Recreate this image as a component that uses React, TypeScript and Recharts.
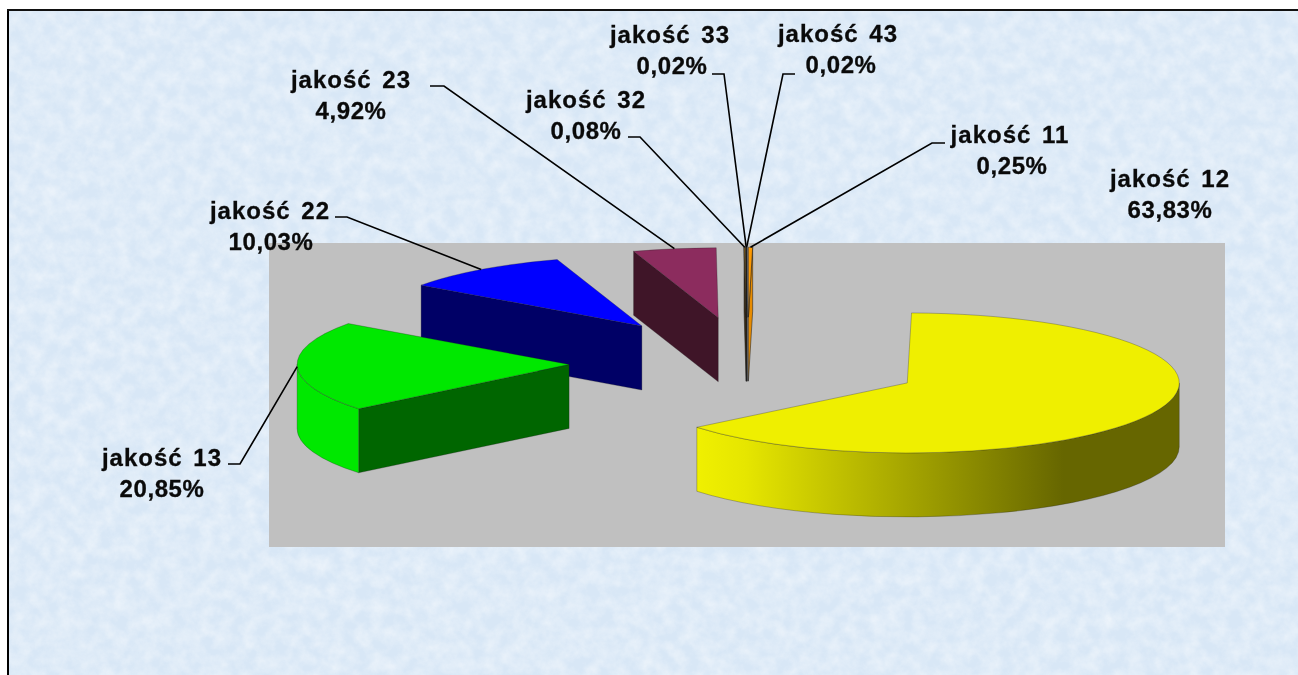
import React from "react";
import { PieChart, Pie } from "recharts";

// Data in the chart's own order (clockwise from 12 o'clock)
const categories = ["jakość 11", "jakość 12", "jakość 13", "jakość 22", "jakość 23", "jakość 32", "jakość 33", "jakość 43"];
const shares = [0.25, 63.83, 20.85, 10.03, 4.92, 0.08, 0.02, 0.02];

// Styles
const topColors = ["#FF9A00", "#EFEF00", "#00E800", "#0000FF", "#8C2C5E", "#9A6A10", "#3A3A3A", "#3A3A3A"];
const cutColors = ["#E88C00", "#666600", "#006600", "#000066", "#3F1528", "#3A2A10", "#2A2A2A", "#2A2A2A"];
const wallColors = ["#FF9A00", "url(#yellowWall)", "#00E800", "#0000FF", "#8C2C5E", "#9A6A10", "#3A3A3A", "#3A3A3A"];

// Label layout: centre x, first baseline, second-line centre x, leader [x start, x elbow, y]
const labelLayout: Record<string, { x: number; y: number; x2: number; leader?: [number, number, number] }> = {
  "jakość 11": { x: 1010, y: 143, x2: 1012, leader: [945, 932, 143] },
  "jakość 12": { x: 1170, y: 187, x2: 1170 },
  "jakość 13": { x: 162, y: 466, x2: 162, leader: [228, 240, 464] },
  "jakość 22": { x: 270, y: 219, x2: 271, leader: [335, 347, 217] },
  "jakość 23": { x: 351, y: 88, x2: 351, leader: [430, 444, 86] },
  "jakość 32": { x: 586, y: 108, x2: 586, leader: [628, 640, 137] },
  "jakość 33": { x: 670, y: 43, x2: 672, leader: [712, 724, 74] },
  "jakość 43": { x: 838, y: 42, x2: 841, leader: [795, 783, 74] },
};

const WIDTH = 1298;
const HEIGHT = 675;
const CX = 747;
const CY = 363;
const RX = 272;
const RY = 70;
const DEPTH = 64;
const EXPLODE = 178;
const RAD = Math.PI / 180;

// Reverse order + counter-clockwise sweep keeps the clockwise layout while painting back slices first.
const rows = categories.map((name, i) => ({ name, value: shares[i], index: i })).reverse();

const apex = (cx: number, cy: number, mid: number) => ({
  x: cx + EXPLODE * Math.cos(mid * RAD),
  y: cy - (EXPLODE * RY * Math.sin(mid * RAD)) / RX,
});
const rim = (o: { x: number; y: number }, a: number, rx: number, dz = 0) => ({
  x: o.x + rx * Math.cos(a * RAD),
  y: o.y - ((rx * RY) / RX) * Math.sin(a * RAD) + dz,
});
const pt = (p: { x: number; y: number }) => `${p.x.toFixed(2)} ${p.y.toFixed(2)}`;

function Slice3D(props: any) {
  const { cx, cy, startAngle, endAngle, midAngle, outerRadius, payload } = props;
  const i: number = payload?.index ?? props.index;
  const a0 = Math.min(startAngle, endAngle);
  const a1 = Math.max(startAngle, endAngle);
  const o = apex(cx, cy, midAngle);
  const rx = outerRadius;
  const ry = (rx * RY) / RX;
  const p0 = rim(o, a0, rx);
  const p1 = rim(o, a1, rx);
  const large = a1 - a0 > 180 ? 1 : 0;
  const top = `M${pt(o)} L${pt(p0)} A${rx} ${ry} 0 ${large} 0 ${pt(p1)} Z`;

  const cut = (a: number) => {
    const p = rim(o, a, rx);
    return `M${pt(o)} L${pt(p)} L${p.x.toFixed(2)} ${(p.y + DEPTH).toFixed(2)} L${o.x.toFixed(2)} ${(o.y + DEPTH).toFixed(2)} Z`;
  };
  const w0 = Math.max(a0, 180);
  const w1 = Math.min(a1, 360);
  let wall: string | null = null;
  if (w1 > w0) {
    const s = rim(o, w0, rx);
    const e = rim(o, w1, rx);
    const big = w1 - w0 > 180 ? 1 : 0;
    wall = `M${pt(s)} A${rx} ${ry} 0 ${big} 0 ${pt(e)} L${e.x.toFixed(2)} ${(e.y + DEPTH).toFixed(2)} A${rx} ${ry} 0 ${big} 1 ${s.x.toFixed(2)} ${(s.y + DEPTH).toFixed(2)} Z`;
  }
  const sliver = a1 - a0 < 1;
  const edge = sliver ? "rgba(30,30,30,0.6)" : "rgba(30,30,30,0.4)";
  const sw = sliver ? 0.9 : 0.7;
  return (
    <g>
      <defs>
        <linearGradient id="yellowWall" x1="0" y1="0" x2="1" y2="0">
          <stop offset="0" stopColor="#F0F000" />
          <stop offset="0.1" stopColor="#E6E600" />
          <stop offset="0.76" stopColor="#666600" />
          <stop offset="1" stopColor="#666600" />
        </linearGradient>
      </defs>
      {Math.cos(a1 * RAD) < 0 && <path d={cut(a1)} fill={cutColors[i]} stroke={edge} strokeWidth={sw} />}
      {Math.cos(a0 * RAD) > 0 && <path d={cut(a0)} fill={cutColors[i]} stroke={edge} strokeWidth={sw} />}
      {wall && <path d={wall} fill={wallColors[i]} stroke={edge} strokeWidth={sw} />}
      <path d={top} fill={topColors[i]} stroke={edge} strokeWidth={sw} />
    </g>
  );
}

function SliceLabel(props: any) {
  const { cx, cy, midAngle, outerRadius, index } = props;
  const row = rows[index];
  const l = labelLayout[row.name];
  const o = apex(cx, cy, midAngle);
  const end = rim(o, midAngle, outerRadius);
  const text = {
    fontFamily: "'Liberation Sans', Arial, sans-serif",
    fontWeight: 700,
    fontSize: 24,
    fill: "#0a0a0a",
    stroke: "#0a0a0a",
    strokeWidth: 0.3,
    textAnchor: "middle" as const,
  };
  return (
    <g>
      {l.leader && (
        <polyline
          points={`${l.leader[0]},${l.leader[2]} ${l.leader[1]},${l.leader[2]} ${end.x.toFixed(1)},${end.y.toFixed(1)}`}
          fill="none"
          stroke="#000"
          strokeWidth={1.6}
        />
      )}
      <text x={l.x} y={l.y} {...text} style={{ letterSpacing: "1px", wordSpacing: "3px" }}>
        {row.name}
      </text>
      <text x={l.x2} y={l.y + 31} {...text} style={{ letterSpacing: "0.6px" }}>
        {row.value.toFixed(2).replace(".", ",") + "%"}
      </text>
    </g>
  );
}

function Backdrop() {
  return (
    <svg width={WIDTH} height={HEIGHT} style={{ position: "absolute", left: 0, top: 0 }}>
      <defs>
        <filter id="paper" x="0" y="0" width="100%" height="100%">
          <feTurbulence type="fractalNoise" baseFrequency="0.07" numOctaves={4} seed={7} />
          <feColorMatrix
            type="matrix"
            values="0 0 0 0 1  0 0 0 0 1  0 0 0 0 1  1.4 0 0 0 -0.4"
          />
        </filter>
      </defs>
      <rect width={WIDTH} height={HEIGHT} fill="#ffffff" />
      <rect x={8} y={10} width={WIDTH} height={HEIGHT} fill="#D8E7F6" />
      <rect x={8} y={10} width={WIDTH} height={HEIGHT} filter="url(#paper)" opacity={0.55} />
      <rect x={269} y={243} width={956} height={304} fill="#C0C0C0" />
      <line x1={8} y1={9} x2={8} y2={HEIGHT} stroke="#000" strokeWidth={2} />
      <line x1={7} y1={10} x2={WIDTH} y2={10} stroke="#111" strokeWidth={2} />
    </svg>
  );
}

export default function App() {
  return (
    <div style={{ position: "absolute", left: 0, top: 0, width: WIDTH, height: HEIGHT, overflow: "hidden", filter: "blur(0.45px)" }}>
      <Backdrop />
      <div style={{ position: "absolute", left: 0, top: 0 }}>
        <PieChart width={WIDTH} height={HEIGHT} margin={{ top: 0, right: 0, bottom: 0, left: 0 }}>
          <Pie
            data={rows}
            dataKey="value"
            nameKey="name"
            cx={CX}
            cy={CY}
            innerRadius={0}
            outerRadius={RX}
            startAngle={90}
            endAngle={450}
            paddingAngle={0}
            stroke="none"
            isAnimationActive={false}
            shape={Slice3D}
            label={SliceLabel}
            labelLine={false}
          />
        </PieChart>
      </div>
    </div>
  );
}
